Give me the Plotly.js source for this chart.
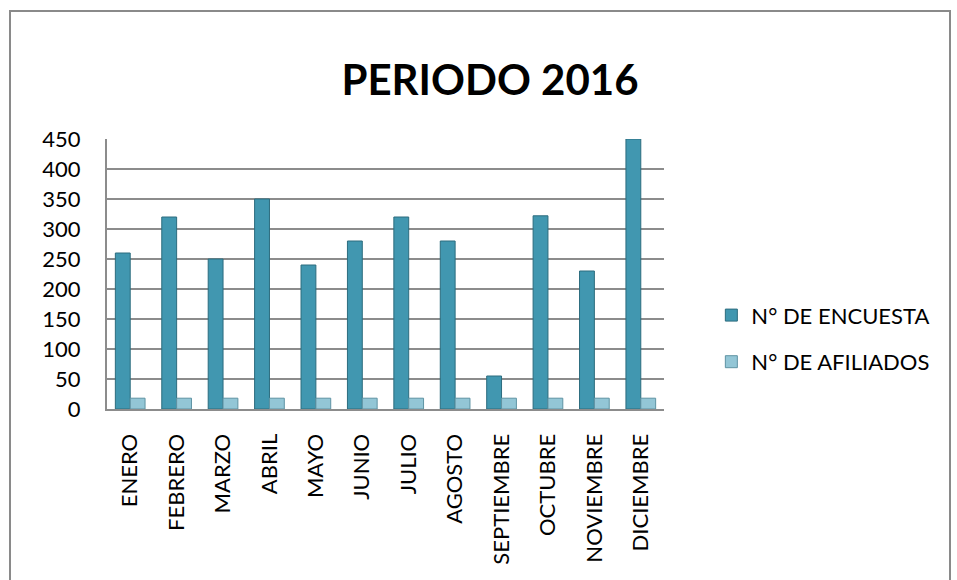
<!DOCTYPE html>
<html>
<head>
<meta charset="utf-8">
<script src="https://cdn.plot.ly/plotly-3.0.1.min.js"></script>
<style>
  html, body { margin: 0; padding: 0; background: #fff; }
  #frame { position: absolute; left: 9px; top: 10px; width: 942px; height: 600px;
           border: 2px solid #8a8a8a; box-sizing: border-box; }
  #chart { position: absolute; left: 0; top: 0; width: 957px; height: 580px; }
</style>
</head>
<body>
<div id="frame"></div>
<div id="chart"></div>
<script>
// PERIODO 2016 - encuestas vs afiliados por mes
const months = ['ENERO', 'FEBRERO', 'MARZO', 'ABRIL', 'MAYO', 'JUNIO',
                'JULIO', 'AGOSTO', 'SEPTIEMBRE', 'OCTUBRE', 'NOVIEMBRE', 'DICIEMBRE'];
const encuestas = [260, 320, 250, 350, 240, 280, 320, 280, 55, 322, 230, 450];
const afiliados = [18, 18, 18, 18, 18, 18, 18, 18, 18, 18, 18, 18];

const FONT = 'Lato, "Open Sans", sans-serif';
const GRID = '#8c8c8c';

const traces = [
  { x: months, y: encuestas, type: 'bar', name: 'N° DE ENCUESTA', legendgroup: 'a',
    marker: { color: '#4197b0', line: { color: '#2c6c7e', width: 1 } } },
  { x: months, y: afiliados, type: 'bar', name: 'N° DE AFILIADOS', legendgroup: 'b',
    marker: { color: '#93c6d6', line: { color: '#5f93a3', width: 1 } } }
];

const layout = {
  width: 957, height: 580,
  paper_bgcolor: 'rgba(0,0,0,0)', plot_bgcolor: 'rgba(0,0,0,0)',
  font: { family: FONT, color: '#000' },
  title: { text: '<b>PERIODO 2016</b>', x: 0.512, xref: 'container', xanchor: 'center',
           y: 0.862, yref: 'container', yanchor: 'middle',
           font: { family: FONT, size: 42, color: '#000' } },
  barmode: 'group', bargap: 0.36, bargroupgap: 0,
  margin: { l: 107, r: 293, t: 139, b: 171 },
  xaxis: { type: 'category', tickangle: -90, tickfont: { size: 22 },
           showline: true, linecolor: GRID, linewidth: 2, ticks: '',
           ticklabelstandoff: 14, fixedrange: true },
  yaxis: { range: [0, 450], dtick: 50, tickfont: { size: 22 },
           showgrid: true, gridcolor: GRID, gridwidth: 2,
           showline: true, linecolor: GRID, linewidth: 2, zeroline: false,
           ticklabelstandoff: 20, fixedrange: true },
  showlegend: true,
  legend: { x: 1.085, xanchor: 'left', y: 0.26, yanchor: 'middle',
            font: { size: 22, color: '#000' }, tracegroupgap: 15,
            traceorder: 'grouped', bgcolor: 'rgba(0,0,0,0)' }
};

Plotly.newPlot('chart', traces, layout, { displayModeBar: false, staticPlot: true });
</script>
</body>
</html>
